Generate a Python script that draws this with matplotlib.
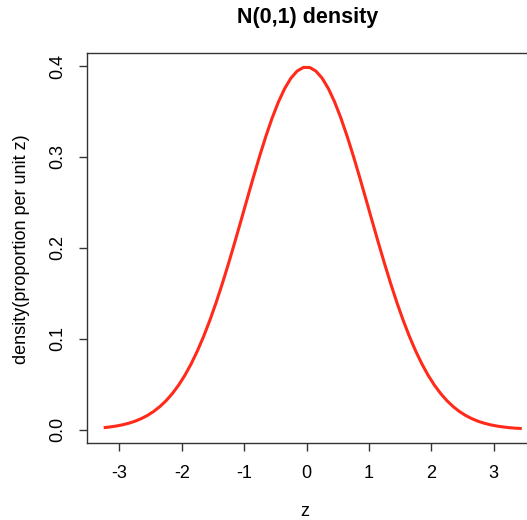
import matplotlib
matplotlib.use("Agg")
import matplotlib.pyplot as plt

plt.rcParams['font.family'] = ['Liberation Sans', 'DejaVu Sans']

# Values (density vs z)
z_values = [-3.25, -3.15, -3.05, -2.95, -2.85, -2.75, -2.65, -2.55, -2.45, -2.35,
            -2.25, -2.15, -2.05, -1.95, -1.85, -1.75, -1.65, -1.55, -1.45, -1.35,
            -1.25, -1.15, -1.05, -0.95, -0.85, -0.75, -0.65, -0.55, -0.45, -0.35,
            -0.25, -0.15, -0.05, 0.05, 0.15, 0.25, 0.35, 0.45, 0.55, 0.65,
            0.75, 0.85, 0.95, 1.05, 1.15, 1.25, 1.35, 1.45, 1.55, 1.65,
            1.75, 1.85, 1.95, 2.05, 2.15, 2.25, 2.35, 2.45, 2.55, 2.65,
            2.75, 2.85, 2.95, 3.05, 3.15, 3.25, 3.35, 3.45]
density = [0.00203, 0.00279, 0.00381, 0.00514, 0.00687, 0.00909, 0.01191, 0.01545, 0.01984, 0.02522,
           0.03174, 0.03955, 0.04879, 0.05959, 0.07207, 0.08628, 0.10227, 0.12001, 0.13943, 0.16038,
           0.18265, 0.20594, 0.22988, 0.25406, 0.27798, 0.30114, 0.32297, 0.34294, 0.36053, 0.37524,
           0.38667, 0.39448, 0.39844, 0.39844, 0.39448, 0.38667, 0.37524, 0.36053, 0.34294, 0.32297,
           0.30114, 0.27798, 0.25406, 0.22988, 0.20594, 0.18265, 0.16038, 0.13943, 0.12001, 0.10227,
           0.08628, 0.07207, 0.05959, 0.04879, 0.03955, 0.03174, 0.02522, 0.01984, 0.01545, 0.01191,
           0.00909, 0.00687, 0.00514, 0.00381, 0.00279, 0.00203, 0.00146, 0.00104]
x_ticks = [-3, -2, -1, 0, 1, 2, 3]
y_ticks = [0.0, 0.1, 0.2, 0.3, 0.4]
y_tick_labels = ["0.0", "0.1", "0.2", "0.3", "0.4"]
title = "N(0,1) density"
x_label = "z"
y_label = "density(proportion per unit z)"

W, H = 527, 520
fig = plt.figure(figsize=(W / 100, H / 100), dpi=100)
left, right, top, bottom = 87, 538.5, 53, 443
ax = fig.add_axes([left / W, 1 - bottom / H, (right - left) / W, (bottom - top) / H])

ax.plot(z_values, density, color='#ff2a1a', lw=2.2, solid_capstyle='butt')

xr = max(z_values) - min(z_values)
ax.set_xlim(min(z_values) - 0.04 * xr, max(z_values) + 0.04 * xr)
yr = max(density) - min(density)
ax.set_ylim(min(density) - 0.04 * yr, max(density) + 0.04 * yr)

ax.set_xticks(x_ticks)
ax.set_xticklabels([str(t) if t >= 0 else "-" + str(-t) for t in x_ticks])
ax.set_yticks(y_ticks)
ax.set_yticklabels(y_tick_labels, rotation=90, va='center')

for s in ax.spines.values():
    s.set_color('#333333')
    s.set_linewidth(1.0)

ax.tick_params(axis='x', direction='out', length=6, width=1, color='#333333',
               labelsize=13, pad=10)
ax.tick_params(axis='y', direction='out', length=6, width=1, color='#333333',
               labelsize=13, pad=9)

fig.text(305 / W, 1 - 512 / H, x_label, ha='center', va='center', fontsize=13)
fig.text(22 / W, 1 - 249 / H, y_label, ha='center', va='center', fontsize=13, rotation=90)
fig.text(308 / W, 1 - 18 / H, title, ha='center', va='center', fontsize=15.5, fontweight='bold')

fig.savefig("out.png", dpi=100)
